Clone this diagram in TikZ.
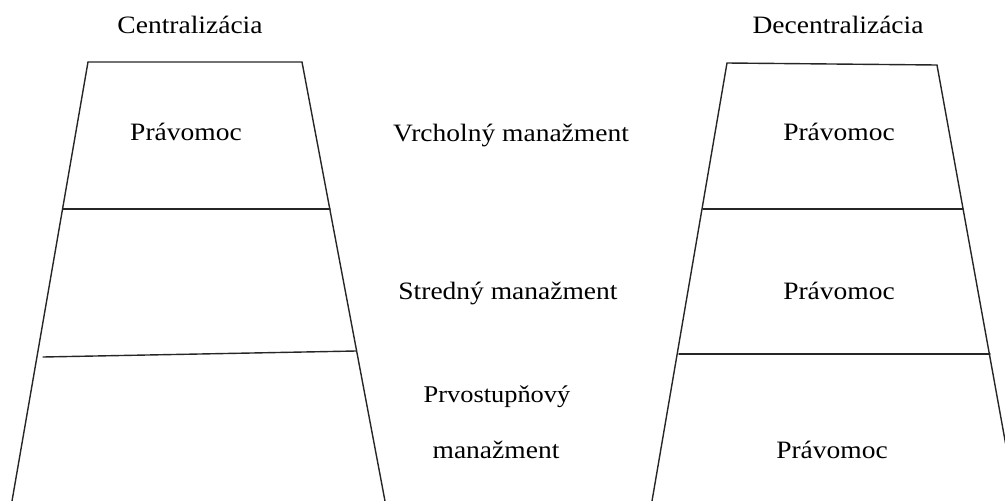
\documentclass[tikz,border=0pt]{standalone}
\usepackage{fontspec}
\setmainfont{Liberation Serif}[FakeStretch=1.1]
\begin{document}
\begin{tikzpicture}[x=1pt,y=-1pt,
  edge/.style={line width=1.4pt, black!85, line cap=round},
  lbl/.style={anchor=base, inner sep=0pt, font=\fontsize{25}{30}\selectfont},
  small/.style={lbl, font=\fontsize{24}{28}\selectfont}]
\useasboundingbox (0,0) rectangle (1005,501);
\clip (0,0) rectangle (1005,501);

% centralisation: outline and level dividers
\coordinate (ctl) at (88,62);
\coordinate (ctr) at (302,62);
\coordinate (cbl) at (12,501);
\coordinate (cbr) at (385,501);
\draw[edge] (cbl) -- (ctl) -- (ctr) -- (cbr);
\coordinate (c1l) at (63,209);
\coordinate (c1r) at (330,209);
\coordinate (c2l) at (43,357);
\coordinate (c2r) at (356,351);
\draw[edge] (c1l) -- (c1r);
\draw[edge] (c2l) -- (c2r);

% decentralisation: outline and level dividers
\coordinate (dtl) at (727,63);
\coordinate (dtr) at (937,65);
\coordinate (dbl) at (652,501);
\coordinate (dbr) at (1016,501);
\draw[edge] (dbl) -- (dtl) -- (dtr) -- (dbr);
\coordinate (d1l) at (703,209);
\coordinate (d1r) at (963,209);
\coordinate (d2l) at (679,354);
\coordinate (d2r) at (990,354);
\draw[edge] (d1l) -- (d1r);
\draw[edge] (d2l) -- (d2r);

% titles
\node[lbl] (ctitle) at (190,33) {Centralizácia};
\node[lbl] (dtitle) at (838,33) {Decentralizácia};

% authority labels
\node[lbl] (cauth) at (186,140) {Právomoc};
\node[lbl] (dauth1) at (839,140) {Právomoc};
\node[lbl] (dauth2) at (839,299) {Právomoc};
\node[lbl] (dauth3) at (832,458) {Právomoc};

% management levels
\node[lbl] (top) at (511,141) {Vrcholný manažment};
\node[lbl] (mid) at (508,299) {Stredný manažment};
\node[small] (low1) at (497,402) {Prvostupňový};
\node[lbl] (low2) at (496,458) {manažment};
\end{tikzpicture}
\end{document}
